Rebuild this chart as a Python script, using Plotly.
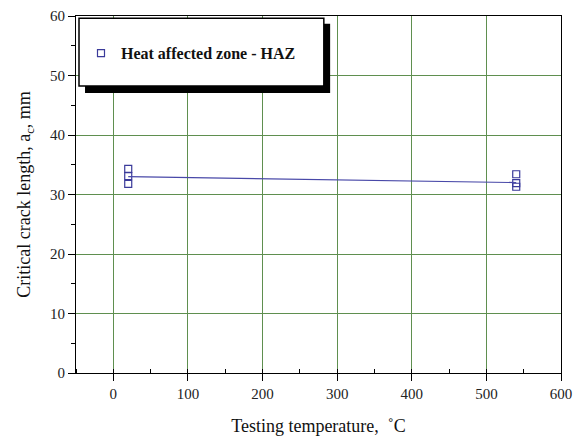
import plotly.graph_objects as go

# Data
temp_20 = [20, 20, 20]
crack_20 = [34.3, 33.1, 31.8]
temp_540 = [540, 540, 540]
crack_540 = [33.4, 31.9, 31.3]
fit_temp = [20, 540]
fit_crack = [33.0, 32.0]

x_ticks = [0, 100, 200, 300, 400, 500, 600]
y_ticks = [0, 10, 20, 30, 40, 50, 60]

series_name = "Heat affected zone - HAZ"
x_title = "Testing temperature,  \u02daC"
y_title = "Critical crack length, a<sub>c</sub>, mm"

marker_color = "#3a3a9a"
grid_color = "#5f8f4f"
serif = "Liberation Serif, Times New Roman, serif"

fig = go.Figure()
fig.add_trace(go.Scatter(
    x=temp_20 + temp_540, y=crack_20 + crack_540, mode="markers",
    name=series_name,
    marker=dict(symbol="square-open", size=7, color=marker_color,
                line=dict(width=1.2, color=marker_color)),
))
fig.add_trace(go.Scatter(
    x=fit_temp, y=fit_crack, mode="lines", showlegend=False,
    line=dict(color="#4848a8", width=1.2),
))

# Legend frame with black drop shadow
fig.add_shape(type="rect", xref="paper", yref="paper",
              x0=0.0186, x1=0.524, y0=0.784, y1=0.978,
              fillcolor="black", line=dict(width=0), layer="above")
fig.add_shape(type="rect", xref="paper", yref="paper",
              x0=0.0062, x1=0.511, y0=0.804, y1=0.994,
              fillcolor="white", line=dict(color="black", width=1.5), layer="above")

axis_common = dict(
    showline=True, linecolor="black", linewidth=1, mirror=True,
    showgrid=True, gridcolor=grid_color, gridwidth=1,
    ticks="outside", ticklen=7, tickcolor="black", tickwidth=1,
    tickfont=dict(family=serif, size=15, color="#222"),
    zeroline=False, automargin=False,
)

fig.update_xaxes(
    range=[-50, 600], tickvals=x_ticks,
    minor=dict(dtick=50, tick0=-50, ticks="inside", ticklen=4, tickcolor="black", showgrid=False),
    title=dict(text=x_title, font=dict(family=serif, size=18, color="#111"), standoff=18),
    **axis_common,
)
fig.update_yaxes(
    range=[0, 60], tickvals=y_ticks,
    minor=dict(dtick=5, ticks="outside", ticklen=4, tickcolor="black", showgrid=False),
    title=dict(text=y_title, font=dict(family=serif, size=18, color="#111"), standoff=14),
    **axis_common,
)

fig.update_layout(
    width=580, height=440,
    margin=dict(l=76, r=19, t=16, b=67),
    plot_bgcolor="white", paper_bgcolor="white",
    showlegend=True,
    legend=dict(x=0.0103, y=0.896, xanchor="left", yanchor="middle",
                bgcolor="rgba(0,0,0,0)", borderwidth=0,
                font=dict(family=serif, size=16, color="#111", weight="bold")),
)

fig.write_html("out.html")
